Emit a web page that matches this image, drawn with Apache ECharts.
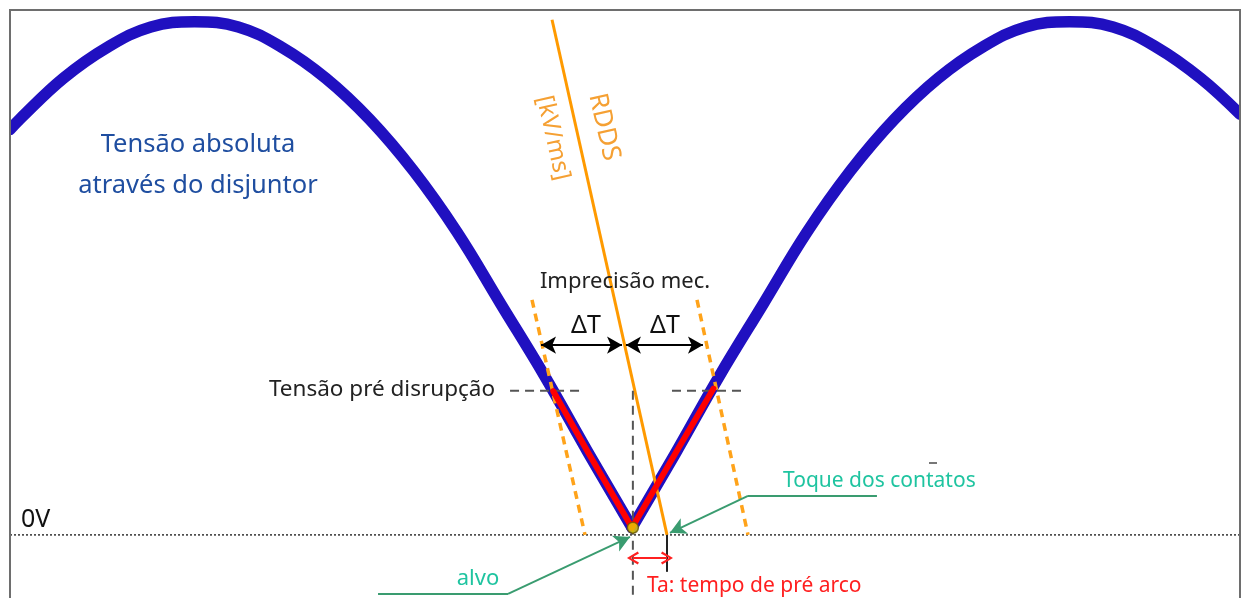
<!DOCTYPE html>
<html lang="pt">
<head>
<meta charset="UTF-8">
<script src="https://cdn.jsdelivr.net/npm/echarts@6/dist/echarts.min.js"></script>
<title>Tensão absoluta</title>
<style>
  html, body { margin: 0; padding: 0; background: #fff; }
  #main { width: 1242px; height: 598px; }
</style>
</head>
<body>
<div id="main"></div>
<script>
// tempo em ms (0 = alvo), tensão em pu
var timeMs = [-7.11, -7.0, -6.5, -6.0, -5.5, -5.0, -4.5, -4.0, -3.5, -3.0, -2.5, -2.0, -1.5, -1.0, -0.5,
  0, 0.5, 1.0, 1.5, 2.0, 2.5, 3.0, 3.5, 4.0, 4.5, 5.0, 5.5, 6.0, 6.5, 6.95];
var voltagePu = [0.79, 0.81, 0.89, 0.95, 0.99, 1.00, 0.99, 0.95, 0.89, 0.81, 0.71, 0.59, 0.45, 0.31, 0.16,
  0.014, 0.16, 0.31, 0.45, 0.59, 0.71, 0.81, 0.89, 0.95, 0.99, 1.00, 0.99, 0.95, 0.89, 0.82];

// trecho de pré arco (vermelho)
var preArcT = [-0.9, -0.5, 0, 0.5, 0.93];
var preArcV = [0.28, 0.16, 0.014, 0.16, 0.285];

var preLevel = 0.281;
var preLeftT = [-1.394, -0.571];
var preRightT = [0.457, 1.269];
var targetT = 0.01;
var contactT = 0.4;

var rddsLine = [[-0.914, 1.004], [0.4, 0]];
var mecLeft = [[-1.143, 0.458], [-0.537, 0]];
var mecRight = [[0.743, 0.458], [1.326, 0]];
var zeroLine = [[-7.11, 0], [6.95, 0]];
var deltaLeft = [[-1.04, 0.37], [-0.114, 0.37]];
var deltaRight = [[-0.069, 0.37], [0.811, 0.37]];
var taArrow = [[0.011, -0.045], [0.4, -0.045]];
var alvoPath = [[-2.903, -0.115], [-1.417, -0.115], [-0.023, -0.004]];
var toquePath = [[2.8, 0.076], [1.326, 0.076], [0.434, 0.004]];

var chartDom = document.getElementById('main');
var myChart = echarts.init(chartDom);
var option;

var font = '"Noto Sans", "Open Sans", sans-serif';
var chevron = 'path://M5,0 L10,9 L8.4,10 L5,3.2 L1.6,10 L0,9 Z';

function seg(points, color, width, type) {
  return {
    type: 'line',
    data: points,
    showSymbol: false,
    symbol: 'none',
    silent: true,
    lineStyle: { color: color, width: width, type: type || 'solid', cap: 'butt' },
    z: 3
  };
}

function arrowLine(a, b, color, width, syms, size) {
  return [
    { coord: a, symbol: syms[0], symbolSize: size, lineStyle: { color: color, width: width, type: 'solid' } },
    { coord: b, symbol: syms[1], symbolSize: size }
  ];
}

function txt(x, y, text, color, size, align, rot) {
  return {
    type: 'text', x: x, y: y, rotation: rot || 0, z: 20,
    style: { text: text, fill: color, fontSize: size, fontFamily: font, align: align || 'center', verticalAlign: 'middle' }
  };
}

// duas metades da |senoide|, cada uma suavizada, com o vértice em t = 0
var zeroIdx = timeMs.indexOf(0);
var curve = timeMs.map(function (t, i) { return [t, voltagePu[i]]; });
var curveLeft = curve.slice(0, zeroIdx + 1);
var curveRight = curve.slice(zeroIdx);
var preArc = preArcT.map(function (t, i) { return [t, preArcV[i]]; });

function blue(points) {
  return {
    type: 'line',
    data: points,
    smooth: 0.4,
    showSymbol: false,
    symbol: 'none',
    silent: true,
    lineStyle: { color: '#2010c0', width: 11.5, join: 'round', cap: 'round' },
    z: 2
  };
}

option = {
  animation: false,
  grid: { left: 10, top: 10, right: 2, bottom: 0, show: false },
  xAxis: { type: 'value', min: -7.11, max: 6.95, show: false },
  yAxis: { type: 'value', min: -0.123, max: 1.023, show: false },
  series: [
    seg(zeroLine, '#333', 1.5, [2, 2]),
    blue(curveLeft),
    blue(curveRight),
    seg(mecLeft, '#ffa31a', 3.5, [8, 6]),
    seg(mecRight, '#ffa31a', 3.5, [8, 6]),
    seg(rddsLine, '#ff9a00', 3),
    seg([[preLeftT[0], preLevel], [preLeftT[1], preLevel]], '#555', 2, [9, 6]),
    seg([[preRightT[0], preLevel], [preRightT[1], preLevel]], '#555', 2, [9, 6]),
    seg([[targetT, preLevel], [targetT, -0.123]], '#555', 2, [9, 6]),
    seg([[contactT, 0], [contactT, -0.072]], '#222', 2),
    seg(alvoPath.slice(0, 2), '#3a9c70', 2),
    seg(toquePath.slice(0, 2), '#3a9c70', 2),
    {
      type: 'line',
      data: preArc,
      showSymbol: false,
      symbol: 'none',
      silent: true,
      lineStyle: { color: '#ff0000', width: 6, join: 'round', cap: 'round' },
      z: 4
    },
    {
      type: 'scatter',
      data: [[targetT, 0.014]],
      symbol: 'circle',
      symbolSize: 11,
      itemStyle: { color: '#e8d400', borderColor: '#6a5a00', borderWidth: 1.5 },
      z: 5
    },
    {
      type: 'line',
      data: [],
      markLine: {
        silent: true,
        label: { show: false },
        emphasis: { disabled: true },
        data: [
          arrowLine(deltaLeft[0], deltaLeft[1], '#000', 2, ['arrow', 'arrow'], [13, 15]),
          arrowLine(deltaRight[0], deltaRight[1], '#000', 2, ['arrow', 'arrow'], [13, 15]),
          arrowLine(taArrow[0], taArrow[1], '#ff2020', 2, [chevron, chevron], [13, 12]),
          arrowLine(alvoPath[1], alvoPath[2], '#3a9c70', 2, ['none', 'arrow'], [13, 16]),
          arrowLine(toquePath[1], toquePath[2], '#3a9c70', 2, ['none', 'arrow'], [13, 16])
        ]
      },
      z: 6
    }
  ],
  graphic: [
    // esconde o que sai da moldura
    { type: 'rect', shape: { x: 0, y: 0, width: 9, height: 598 }, style: { fill: '#fff' }, z: 9 },
    { type: 'rect', shape: { x: 1241, y: 0, width: 2, height: 598 }, style: { fill: '#fff' }, z: 9 },
    {
      type: 'polyline',
      shape: { points: [[10, 600], [10, 10], [1240, 10], [1240, 600]] },
      style: { stroke: '#6e6e6e', lineWidth: 2, fill: null },
      z: 10
    },
    { type: 'rect', shape: { x: 929, y: 462, width: 8, height: 2 }, style: { fill: '#777' } },
    txt(198, 145, 'Tensão absoluta', '#1f4ea0', 25.5),
    txt(198, 186, 'através do disjuntor', '#1f4ea0', 25.5),
    txt(604, 127, 'RDDS', '#f5a033', 26, 'center', -1.349),
    txt(553, 138, '[kV/ms]', '#f5a033', 24, 'center', -1.349),
    txt(625, 282, 'Imprecisão mec.', '#222', 22),
    txt(586, 326, 'ΔT', '#111', 25),
    txt(665, 326, 'ΔT', '#111', 25),
    txt(495, 390, 'Tensão pré disrupção', '#222', 22.5, 'right'),
    txt(21, 520, '0V', '#111', 25, 'left'),
    txt(783, 481, 'Toque dos contatos', '#1fc4a0', 21, 'left'),
    txt(478, 579, 'alvo', '#1fc4a0', 22),
    txt(647, 586, 'Ta: tempo de pré arco', '#ff1f1f', 21, 'left')
  ]
};

option && myChart.setOption(option);
</script>
</body>
</html>
